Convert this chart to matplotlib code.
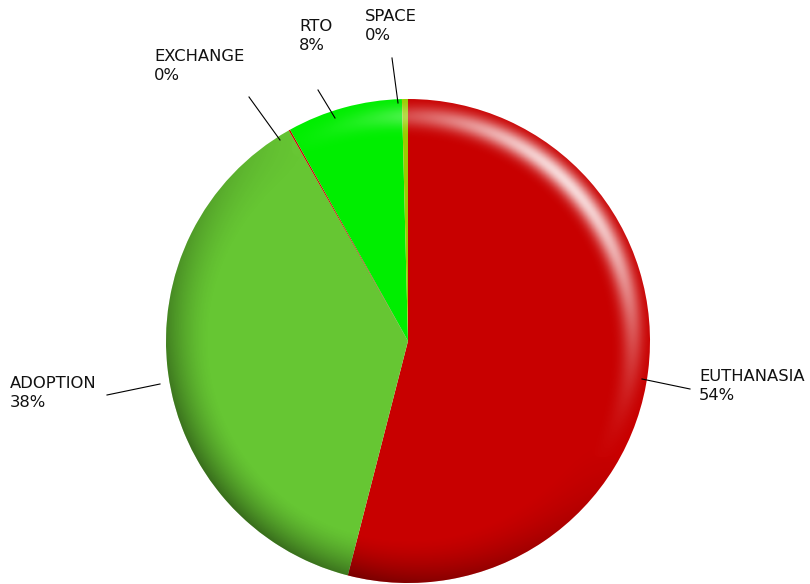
import numpy as np
import matplotlib
matplotlib.use("Agg")
import matplotlib.pyplot as plt
import matplotlib.patches as mpatches

# slice data (clockwise from 12 o'clock)
labels = ["EUTHANASIA", "ADOPTION", "EXCHANGE", "RTO", "SPACE"]
pct_text = ["54%", "38%", "0%", "8%", "0%"]
values = [540, 378, 1, 77, 4]
colors = ["#c80000", "#66c633", "#cc0000", "#00ee00", "#99cc00"]

# label text positions in pixel space (x, y from top)
label_pos = [(699, 369), (10, 376), (154, 49), (299, 19), (365, 9)]
# leader lines: (start on pie, end near label) in pixel space
leader = [((642, 379), (690, 389)), ((160, 384), (107, 395)),
          ((280, 140), (249, 97)), ((335, 118), (318, 90)),
          ((398, 103), (392, 58))]

W, H = 810, 584
cx, cy, R = 408, 341, 242

fig = plt.figure(figsize=(W / 100, H / 100), dpi=100)
ax = fig.add_axes([0, 0, 1, 1])

center = (cx, H - cy)
wedges, _ = ax.pie(values, colors=colors, startangle=90, counterclock=False,
                   center=center, radius=R, frame=True,
                   wedgeprops=dict(linewidth=0))

# 3d-ish shading overlay
n = 600
xs = np.linspace(-1, 1, n)
X, Y = np.meshgrid(xs, xs[::-1])
r = np.sqrt(X ** 2 + Y ** 2)
rim = np.clip((r - 0.82) / 0.18, 0, 1) ** 1.5
ang = np.deg2rad(45)
d = (X * np.cos(ang) + Y * np.sin(ang)) / np.maximum(r, 1e-6)
band = np.exp(-((r - 0.93) / 0.045) ** 2)
light = np.clip(d, 0, 1) ** 3 * band
dark = np.clip(-d + 0.3, 0, 1.3) / 1.3 * rim
img = np.zeros((n, n, 4))
use_light = light > dark * 0.6
img[..., :3] = np.where(use_light[..., None], 1.0, 0.0)
img[..., 3] = np.where(use_light, light * 0.85, dark * 0.45)
im = ax.imshow(img, extent=(cx - R, cx + R, H - cy - R, H - cy + R), zorder=3,
               interpolation="bilinear")
clip = mpatches.Circle(center, R, transform=ax.transData)
im.set_clip_path(clip)

ax.set_xlim(0, W)
ax.set_ylim(0, H)
ax.set_aspect("equal")
ax.axis("off")

# labels with leader lines
for i in range(len(labels)):
    tx, ty = label_pos[i]
    ax.text(tx, H - ty, labels[i] + "\n" + pct_text[i], fontsize=11.8,
            family="DejaVu Sans", va="top", ha="left", color="#111111",
            linespacing=1.3, zorder=5)
    (x0, y0), (x1, y1) = leader[i]
    ax.plot([x0, x1], [H - y0, H - y1], color="black", lw=0.8, zorder=4)

fig.savefig("out.png", dpi=100)
